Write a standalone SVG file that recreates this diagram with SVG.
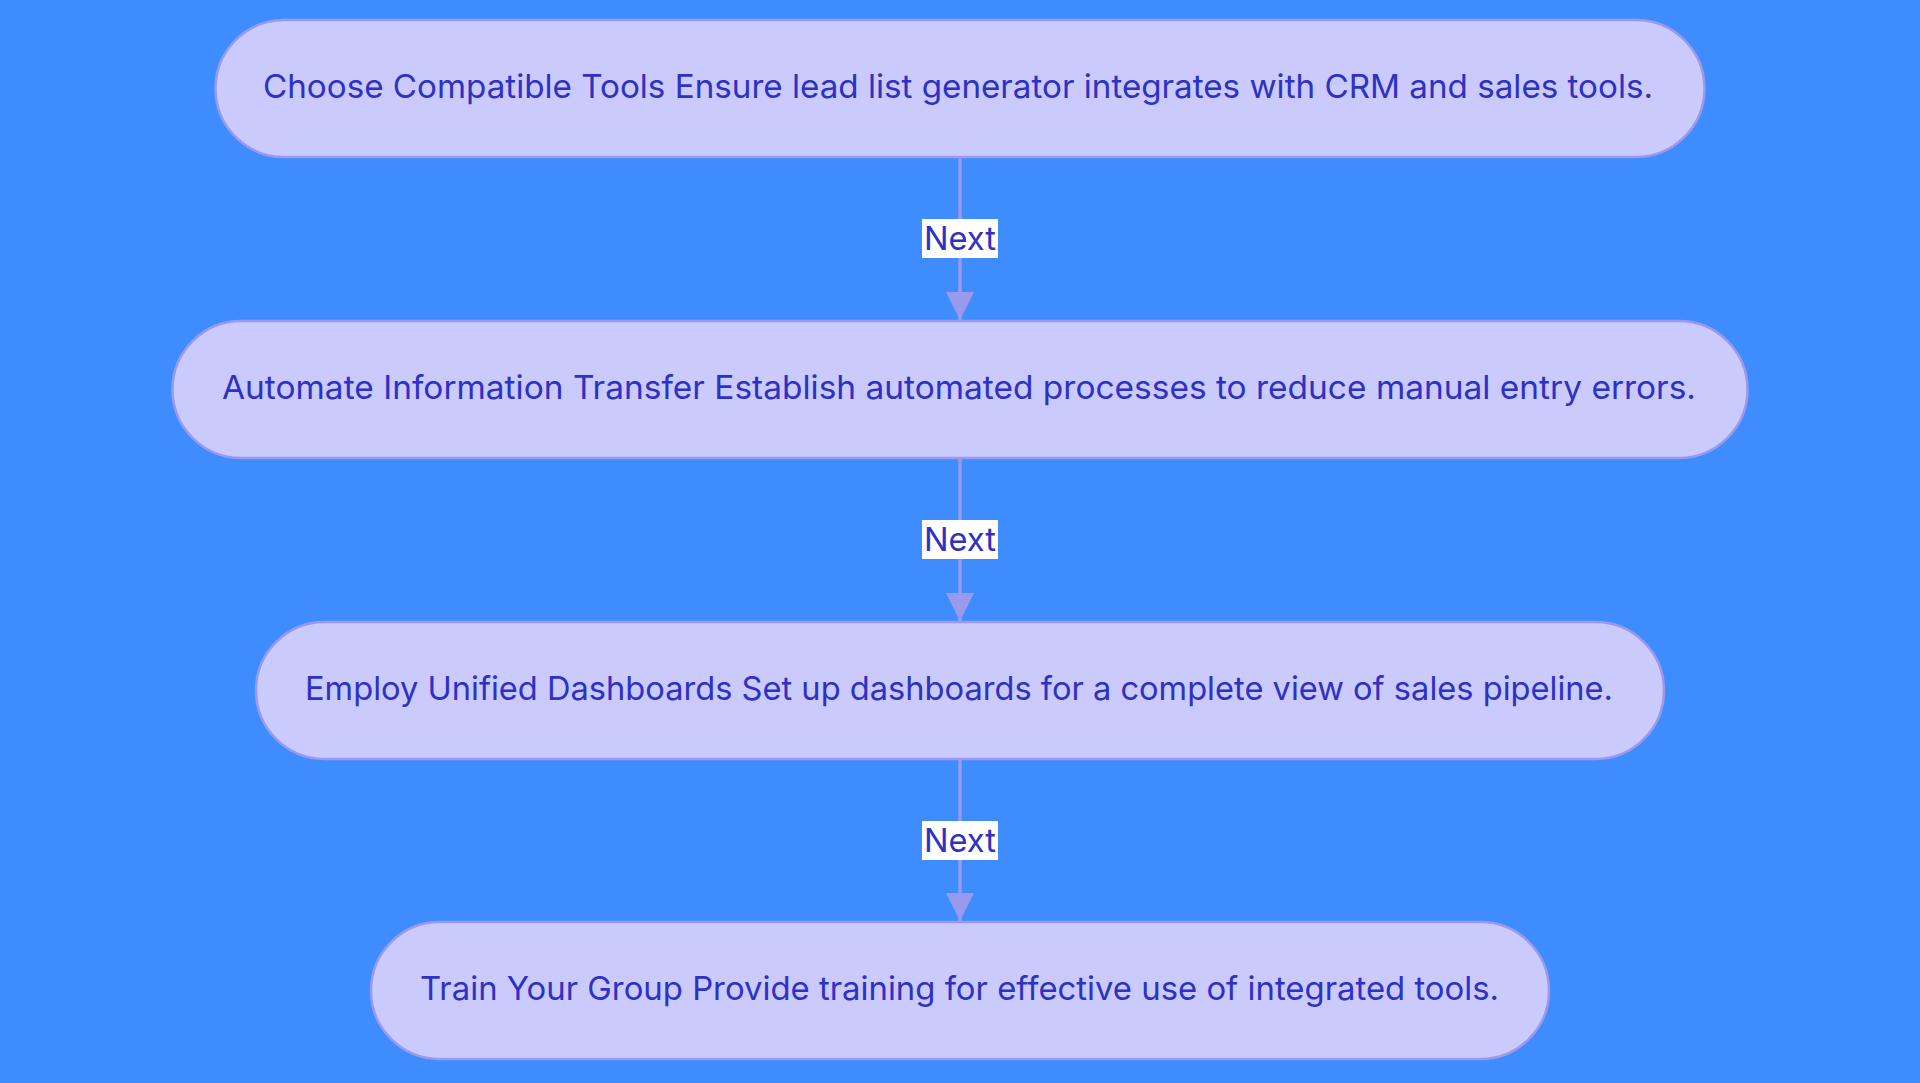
<svg xmlns="http://www.w3.org/2000/svg" width="1920" height="1083" viewBox="0 0 1920 1083">
<style>
.node rect{fill:#CACAFD;stroke:#9A9AEC;stroke-width:2.5}
.node text{font-family:Inter,"Noto Sans","Liberation Sans",sans-serif;font-size:33px;font-weight:400;fill:#2E31C4;text-anchor:middle}
.edge line{stroke:#9A9AEC;stroke-width:3.5}
.lbl rect{fill:#FFFFFF}
.lbl text{font-family:Inter,"Noto Sans","Liberation Sans",sans-serif;font-size:33px;fill:#2E31C4;text-anchor:middle}
</style>
<defs>
<marker id="arr" viewBox="0 0 30 30" refX="30" refY="15" markerUnits="userSpaceOnUse" markerWidth="28" markerHeight="30" orient="auto">
<path d="M0,0 L30,15 L0,30 Z" fill="#9A9AEC"/>
</marker>
</defs>
<rect x="0" y="0" width="1920" height="1083" fill="#3F8CFF"/>
<g id="connectors" class="edge">
<line x1="960" y1="157" x2="960" y2="320" marker-end="url(#arr)"/>
<line x1="960" y1="458" x2="960" y2="621" marker-end="url(#arr)"/>
<line x1="960" y1="759" x2="960" y2="921" marker-end="url(#arr)"/>
<g class="lbl">
<rect x="922" y="219" width="76" height="39"/>
<text x="960" y="249.5" textLength="72" lengthAdjust="spacingAndGlyphs">Next</text>
<rect x="922" y="520" width="76" height="39"/>
<text x="960" y="550.5" textLength="72" lengthAdjust="spacingAndGlyphs">Next</text>
<rect x="922" y="821" width="76" height="39"/>
<text x="960" y="851.5" textLength="72" lengthAdjust="spacingAndGlyphs">Next</text>
</g>
</g>
<g id="node1" class="node">
<rect x="215.5" y="20" width="1489" height="137" rx="68.5" ry="68.5"/>
<text x="958" y="98" textLength="1390" lengthAdjust="spacingAndGlyphs">Choose Compatible Tools Ensure lead list generator integrates with CRM and sales tools.</text>
</g>
<g id="node2" class="node">
<rect x="172.5" y="321" width="1575" height="137" rx="68.5" ry="68.5"/>
<text x="959" y="399" textLength="1474" lengthAdjust="spacingAndGlyphs">Automate Information Transfer Establish automated processes to reduce manual entry errors.</text>
</g>
<g id="node3" class="node">
<rect x="256" y="622" width="1408" height="137" rx="68.5" ry="68.5"/>
<text x="959" y="700" textLength="1308" lengthAdjust="spacingAndGlyphs">Employ Unified Dashboards Set up dashboards for a complete view of sales pipeline.</text>
</g>
<g id="node4" class="node">
<rect x="371" y="922" width="1178" height="137" rx="68.5" ry="68.5"/>
<text x="959.5" y="1000" textLength="1079" lengthAdjust="spacingAndGlyphs">Train Your Group Provide training for effective use of integrated tools.</text>
</g>
</svg>
